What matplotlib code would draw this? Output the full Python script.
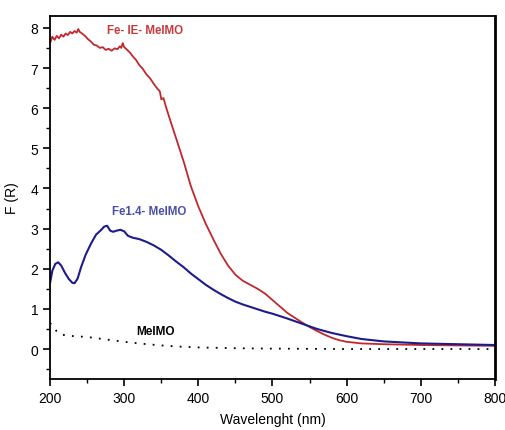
import numpy as np
import matplotlib
matplotlib.use("Agg")
from matplotlib import pyplot as plt
from matplotlib.ticker import MultipleLocator

plt.rcParams['font.family'] = ['Liberation Sans', 'DejaVu Sans']

# Fe-IE-MeIMO
wl_ie = [200, 203, 206, 209, 212, 215, 218, 221, 224, 227, 230, 233, 236, 238, 240, 243,
         247, 251, 255, 259, 263, 267, 271, 275, 279, 283, 287, 291, 294, 296, 298, 300,
         304, 308, 312, 316, 320, 325, 330, 335, 340, 345, 348, 350, 353, 356, 362, 370,
         380, 390, 400, 410, 420, 430, 440, 450, 460, 470, 480, 490, 500, 510, 520, 530,
         540, 550, 560, 570, 580, 590, 600, 620, 650, 700, 750, 800]
f_ie = [7.62, 7.78, 7.70, 7.80, 7.74, 7.83, 7.78, 7.86, 7.82, 7.90, 7.86, 7.92, 7.88, 7.97, 7.90, 7.86,
        7.80, 7.72, 7.66, 7.58, 7.56, 7.50, 7.52, 7.45, 7.48, 7.43, 7.49, 7.47, 7.54, 7.50, 7.62, 7.52,
        7.45, 7.38, 7.28, 7.20, 7.08, 6.98, 6.84, 6.74, 6.60, 6.48, 6.42, 6.22, 6.25, 6.05, 5.70, 5.25,
        4.68, 4.05, 3.55, 3.12, 2.74, 2.38, 2.08, 1.85, 1.70, 1.60, 1.50, 1.38, 1.22, 1.06, 0.90, 0.78,
        0.66, 0.55, 0.45, 0.36, 0.28, 0.22, 0.18, 0.14, 0.12, 0.10, 0.09, 0.08]

# Fe1.4-MeIMO
wl_14 = [200, 203, 207, 211, 215, 220, 225, 230, 233, 237, 242, 248, 255, 262, 268, 273,
         277, 281, 285, 290, 295, 300, 305, 312, 320, 330, 340, 350, 360, 370, 380, 390,
         400, 410, 420, 430, 440, 450, 460, 470, 480, 490, 500, 520, 540, 560, 580, 600,
         620, 650, 700, 750, 800]
f_14 = [1.65, 1.95, 2.12, 2.16, 2.08, 1.90, 1.75, 1.65, 1.64, 1.75, 2.05, 2.35, 2.62, 2.85, 2.95, 3.05,
        3.07, 2.95, 2.92, 2.95, 2.97, 2.93, 2.82, 2.77, 2.74, 2.67, 2.58, 2.47, 2.33, 2.18, 2.04, 1.88,
        1.74, 1.60, 1.48, 1.37, 1.27, 1.18, 1.11, 1.05, 0.99, 0.93, 0.88, 0.76, 0.63, 0.50, 0.40, 0.32,
        0.25, 0.19, 0.14, 0.12, 0.10]

# MeIMO
wl_me = [200, 205, 210, 215, 225, 250, 275, 300, 325, 350, 375, 400, 450, 500, 600, 800]
f_me = [0.65, 0.52, 0.42, 0.36, 0.33, 0.30, 0.24, 0.18, 0.13, 0.09, 0.06, 0.04, 0.02, 0.01, 0.0, 0.0]

red = '#c0282d'
blue = '#1c1c8a'

fig = plt.figure(figsize=(5.06, 4.31), dpi=100)
ax = fig.add_axes([0.099, 0.118, 0.879, 0.843])

ax.plot(wl_ie, f_ie, color=red, lw=1.3)
ax.plot(wl_14, f_14, color=blue, lw=1.5)
ax.plot(wl_me, f_me, color='black', lw=1.3, linestyle=(0, (1, 4)))

ax.text(277, 7.95, 'Fe- IE- MeIMO', color='#c8393c', fontsize=8.3, fontweight='bold',
        va='center', ha='left')
ax.text(284, 3.44, 'Fe1.4- MeIMO', color='#4a4fa8', fontsize=8.3, fontweight='bold',
        va='center', ha='left')
ax.text(316, 0.45, 'MeIMO', color='black', fontsize=8.5, fontweight='bold',
        va='center', ha='left')

ax.set_xlim(200, 800)
ax.set_ylim(-0.75, 8.3)
ax.xaxis.set_major_locator(MultipleLocator(100))
ax.xaxis.set_minor_locator(MultipleLocator(50))
ax.yaxis.set_major_locator(MultipleLocator(1))
ax.yaxis.set_minor_locator(MultipleLocator(0.5))
ax.tick_params(which='major', length=5, width=1.2, labelsize=10, direction='out')
ax.tick_params(which='minor', length=3, width=1.0, direction='out')

for s in ax.spines.values():
    s.set_linewidth(1.3)
ax.spines['right'].set_linewidth(2.0)

ax.set_xlabel('Wavelenght (nm)', fontsize=10, labelpad=5)
ax.set_ylabel('F (R)', fontsize=10, labelpad=8)

fig.savefig('out.png', dpi=100)
